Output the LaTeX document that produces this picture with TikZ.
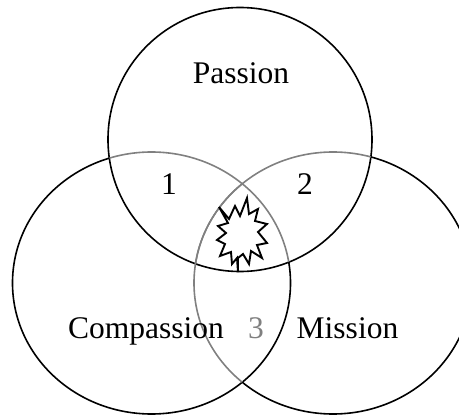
\documentclass[tikz,border=0pt]{standalone}
\usepackage{fontspec}
\setmainfont{Liberation Serif}
\begin{document}
\begin{tikzpicture}[x=1pt,y=-1pt]
\tikzset{cercle/.style={line width=1.6pt, black},
  cerclegris/.style={line width=1.6pt, black!50},
  etiquette/.style={font=\fontsize{31.5}{36}\selectfont, inner sep=0pt, anchor=base},
  eclat/.style={line width=1.9pt, line join=miter}}
\useasboundingbox (0,0) rectangle (459,417);
\clip (0,0) rectangle (459,417);
% cercle du haut
\draw[cercle] (240,139.5) circle [radius=132];
% cercle de gauche : gris dans celui du haut
\begin{scope}
\clip (240,139.5) circle [radius=132];
\draw[cerclegris] (151.5,283) ellipse [x radius=139, y radius=131];
\end{scope}
\begin{scope}[even odd rule]
\clip (-10,-10) rectangle (470,430) (240,139.5) circle [radius=132];
\draw[cercle] (151.5,283) ellipse [x radius=139, y radius=131];
\end{scope}
% cercle de droite : gris dans les deux autres
\begin{scope}
\clip (240,139.5) circle [radius=132];
\draw[cerclegris] (333,283) ellipse [x radius=139, y radius=131];
\end{scope}
\begin{scope}
\clip (151.5,283) ellipse [x radius=139, y radius=131];
\draw[cerclegris] (333,283) ellipse [x radius=139, y radius=131];
\end{scope}
\begin{scope}[even odd rule]
\clip (-10,-10) rectangle (470,430) (240,139.5) circle [radius=132];
\clip (-10,-10) rectangle (470,430) (151.5,283) ellipse [x radius=139, y radius=131];
\draw[cercle] (333,283) ellipse [x radius=139, y radius=131];
\end{scope}
% etiquettes
\node[etiquette] (passion) at (241,84) {Passion};
\node[etiquette] (un) at (169,195) {1};
\node[etiquette] (deux) at (305,195) {2};
\node[etiquette] (compassion) at (146,339) {Compassion};
\node[etiquette, text=black!50] (trois) at (256,339) {3};
\node[etiquette] (mission) at (347.5,339) {Mission};
% eclat au centre
\draw[eclat] (219,207) -- (229,219) -- (235,206) -- (240,216) -- (247,198)
  -- (249,214) -- (258,209) -- (255,221) -- (267,224) -- (258,232)
  -- (267,243) -- (257,245) -- (262,258) -- (251,251) -- (249,264)
  -- (243,254) -- (238,258) -- (238,272) -- (237,258) -- (232,264)
  -- (231,252) -- (220,256) -- (225,244) -- (217,240) -- (226,233)
  -- (218,226) -- (228,223) -- cycle;
\end{tikzpicture}
\end{document}
